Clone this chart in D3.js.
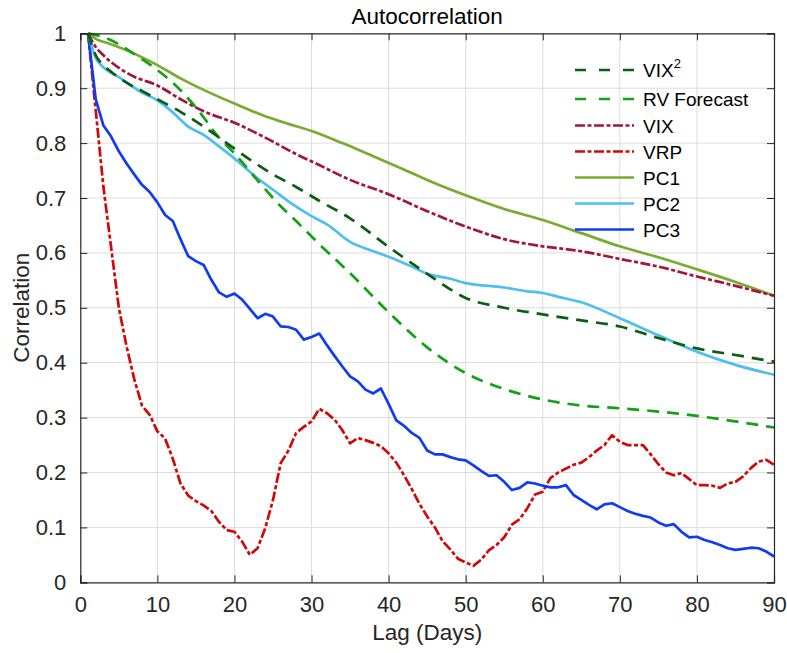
<!DOCTYPE html>
<html>
<head>
<meta charset="utf-8">
<script src="https://cdn.jsdelivr.net/npm/d3@7"></script>
<style>
  html, body { margin: 0; padding: 0; background: #fff; }
  svg { display: block; font-family: "Liberation Sans", Arial, Helvetica, sans-serif; }
</style>
</head>
<body>
<svg id="chart" width="787" height="653"></svg>
<script>
// ---------- Data ----------
const xTicks = [0, 10, 20, 30, 40, 50, 60, 70, 80, 90];
const yTicks = [0, 0.1, 0.2, 0.3, 0.4, 0.5, 0.6, 0.7, 0.8, 0.9, 1];

const lagsFull = [1,2,3,4,5,6,7,8,9,10,11,12,13,14,15,16,17,18,19,20,21,22,23,24,25,26,27,28,29,30,
  31,32,33,34,35,36,37,38,39,40,41,42,43,44,45,46,47,48,49,50,51,52,53,54,55,56,57,58,59,60,
  61,62,63,64,65,66,67,68,69,70,71,72,73,74,75,76,77,78,79,80,81,82,83,84,85,86,87,88,89,90];

const vrpValues = [1.0,0.86,0.72,0.61,0.50,0.43,0.37,0.322,0.305,0.275,0.262,0.225,0.18,0.158,0.148,0.14,0.13,0.11,0.095,0.092,
  0.074,0.05,0.062,0.099,0.15,0.217,0.24,0.272,0.283,0.293,0.316,0.308,0.296,0.277,0.253,0.263,0.259,0.254,0.248,0.235,
  0.218,0.195,0.17,0.143,0.12,0.10,0.075,0.06,0.043,0.036,0.03,0.041,0.058,0.068,0.082,0.105,0.115,0.135,0.16,0.165,
  0.19,0.20,0.207,0.214,0.218,0.228,0.24,0.25,0.268,0.256,0.25,0.25,0.25,0.233,0.215,0.20,0.195,0.199,0.188,0.177,
  0.177,0.176,0.172,0.18,0.183,0.193,0.208,0.22,0.223,0.214];

const pc3Values = [1.0,0.88,0.832,0.812,0.785,0.763,0.743,0.724,0.711,0.692,0.669,0.658,0.625,0.594,0.585,0.578,0.551,0.528,0.52,0.526,
  0.515,0.498,0.481,0.489,0.484,0.466,0.465,0.46,0.442,0.447,0.453,0.432,0.412,0.393,0.375,0.366,0.351,0.344,0.353,0.325,
  0.295,0.285,0.272,0.263,0.24,0.233,0.233,0.228,0.224,0.222,0.213,0.203,0.194,0.195,0.183,0.168,0.172,0.182,0.18,0.176,
  0.173,0.173,0.177,0.159,0.15,0.141,0.133,0.142,0.144,0.137,0.13,0.125,0.121,0.118,0.109,0.103,0.106,0.092,0.082,0.083,
  0.077,0.073,0.068,0.062,0.059,0.061,0.063,0.062,0.056,0.047];

const pc1Lags   = [1,2,4,7,10,13,16,20,24,27,30,34,38,41,45,50,55,60,65,70,75,80,85,90];
const pc1Values = [1.0,0.99,0.98,0.963,0.942,0.918,0.897,0.872,0.849,0.835,0.822,0.80,0.776,0.758,0.733,0.705,0.68,0.66,0.636,0.612,0.592,0.57,0.547,0.522];

const vixLags   = [1,2,3,5,7,10,13,16,20,24,28,31,35,40,45,50,55,60,65,70,75,80,85,90];
const vixValues = [1.0,0.975,0.96,0.937,0.921,0.905,0.88,0.858,0.837,0.81,0.78,0.76,0.733,0.707,0.676,0.648,0.625,0.612,0.603,0.589,0.575,0.557,0.54,0.522];

const vix2Lags   = [1,2,3,4,6,8,10,13,16,19,22,25,28,31,35,40,45,50,55,60,65,70,75,80,85,90];
const vix2Values = [1.0,0.96,0.942,0.93,0.91,0.895,0.88,0.857,0.83,0.80,0.77,0.743,0.72,0.695,0.663,0.611,0.562,0.518,0.50,0.488,0.477,0.466,0.445,0.426,0.414,0.402];

const rvLags   = [1,3,5,7,10,12,15,18,20,23,26,28,31,35,40,45,50,55,60,65,70,75,80,85,90];
const rvValues = [1.0,0.993,0.98,0.962,0.933,0.91,0.865,0.81,0.781,0.732,0.685,0.658,0.616,0.563,0.492,0.428,0.381,0.352,0.333,0.322,0.317,0.311,0.303,0.293,0.282];

const pc2Lags   = [1,2,3,5,8,10,12,14,16,18,20,23,25,27,30,32,35,38,40,43,45,48,50,55,58,60,62,65,70,75,80,85,90];
const pc2Values = [1.0,0.955,0.938,0.92,0.892,0.878,0.856,0.83,0.815,0.794,0.772,0.736,0.715,0.694,0.667,0.652,0.62,0.603,0.593,0.575,0.562,0.553,0.545,0.537,0.53,0.527,0.52,0.51,0.481,0.45,0.42,0.396,0.378];

const seriesNames = ["VIX2", "RV Forecast", "VIX", "VRP", "PC1", "PC2", "PC3"];

// ---------- Styles ----------
const DASH = "12,8";
const DASHDOT = "10,2.5,4,2.5";
const LEG_DASH = "11,13";
const series = [
  { name: seriesNames[0], lags: vix2Lags, vals: vix2Values, color: "#0b5d12", dash: DASH,    leg: LEG_DASH, curve: d3.curveMonotoneX },
  { name: seriesNames[1], lags: rvLags,   vals: rvValues,   color: "#14a014", dash: DASH,    leg: LEG_DASH, curve: d3.curveMonotoneX },
  { name: seriesNames[2], lags: vixLags,  vals: vixValues,  color: "#a3163a", dash: DASHDOT, leg: DASHDOT,  curve: d3.curveMonotoneX },
  { name: seriesNames[3], lags: lagsFull, vals: vrpValues,  color: "#d10808", dash: DASHDOT, leg: DASHDOT,  curve: d3.curveLinear },
  { name: seriesNames[4], lags: pc1Lags,  vals: pc1Values,  color: "#77ac30", dash: null,    leg: null,     curve: d3.curveMonotoneX },
  { name: seriesNames[5], lags: pc2Lags,  vals: pc2Values,  color: "#4dbeee", dash: null,    leg: null,     curve: d3.curveMonotoneX },
  { name: seriesNames[6], lags: lagsFull, vals: pc3Values,  color: "#0f3cf0", dash: null,    leg: null,     curve: d3.curveLinear }
];
// drawing order (bottom -> top)
const drawOrder = [3, 6, 5, 4, 2, 1, 0];

// ---------- Layout ----------
const L = 80.3, R = 774, T = 33.3, B = 582.3;
const svg = d3.select("#chart");
const x = d3.scaleLinear().domain([0, 90]).range([L, R]);
const y = d3.scaleLinear().domain([0, 1]).range([B, T]);
const axisColor = "#262626";

// grid
const grid = svg.append("g");
grid.selectAll(".gx").data(xTicks.slice(1, -1)).enter().append("line")
  .attr("x1", d => x(d)).attr("x2", d => x(d)).attr("y1", T).attr("y2", B)
  .attr("stroke", "#dcdcdc").attr("stroke-width", 1);
grid.selectAll(".gy").data(yTicks.slice(1, -1)).enter().append("line")
  .attr("y1", d => y(d)).attr("y2", d => y(d)).attr("x1", L).attr("x2", R)
  .attr("stroke", "#dcdcdc").attr("stroke-width", 1);

// lines
const plot = svg.append("g");
drawOrder.forEach(i => {
  const s = series[i];
  const pts = s.lags.map((l, k) => [l, s.vals[k]]);
  const line = d3.line().x(d => x(d[0])).y(d => y(d[1])).curve(s.curve);
  plot.append("path").attr("d", line(pts))
    .attr("fill", "none").attr("stroke", s.color).attr("stroke-width", 2.7)
    .attr("stroke-linejoin", "round")
    .attr("stroke-dasharray", s.dash);
});

// axes (ticks inward)
const tickLen = 7;
const xAxisB = d3.axisBottom(x).tickValues(xTicks).tickSize(-tickLen).tickPadding(14).tickFormat(d3.format("d"));
const xAxisT = d3.axisTop(x).tickValues(xTicks).tickSize(-tickLen).tickFormat("");
const yAxisL = d3.axisLeft(y).tickValues(yTicks).tickSize(-tickLen).tickPadding(14).tickFormat(d => d === 0 || d === 1 ? String(d) : d3.format(".1f")(d));
const yAxisR = d3.axisRight(y).tickValues(yTicks).tickSize(-tickLen).tickFormat("");

function styleAxis(g) {
  g.select(".domain").attr("stroke", axisColor).attr("stroke-width", 1.2);
  g.selectAll(".tick line").attr("stroke", axisColor).attr("stroke-width", 1);
  g.selectAll(".tick text").attr("fill", axisColor).attr("font-size", 22)
    .attr("font-family", "'Liberation Sans', Arial, sans-serif");
}
svg.append("g").attr("transform", `translate(0,${B})`).call(xAxisB).call(styleAxis);
svg.append("g").attr("transform", `translate(0,${T})`).call(xAxisT).call(styleAxis);
svg.append("g").attr("transform", `translate(${L},0)`).call(yAxisL).call(styleAxis);
svg.append("g").attr("transform", `translate(${R},0)`).call(yAxisR).call(styleAxis);

// titles
svg.append("text").attr("x", (L + R) / 2).attr("y", 24).attr("text-anchor", "middle")
  .attr("font-size", 22.5).attr("fill", "#000").text("Autocorrelation");
svg.append("text").attr("x", (L + R) / 2).attr("y", 640).attr("text-anchor", "middle")
  .attr("font-size", 22.5).attr("fill", axisColor).text("Lag (Days)");
svg.append("text").attr("transform", `translate(28.5,${(T + B) / 2}) rotate(-90)`).attr("text-anchor", "middle")
  .attr("font-size", 22.5).attr("fill", axisColor).text("Correlation");

// legend
const legY = [70, 99, 125.5, 151.5, 177.5, 203.5, 229.5];
const leg = svg.append("g");
series.forEach((s, i) => {
  leg.append("line").attr("x1", 575).attr("x2", 634).attr("y1", legY[i]).attr("y2", legY[i])
    .attr("stroke", s.color).attr("stroke-width", 2.7).attr("stroke-dasharray", s.leg);
  const t = leg.append("text").attr("x", 643).attr("y", legY[i] + 7).attr("font-size", 19).attr("fill", "#000");
  if (i === 0) {
    t.append("tspan").text("VIX");
    t.append("tspan").attr("dy", -9).attr("font-size", 13).text("2");
  } else {
    t.text(s.name);
  }
});
</script>
</body>
</html>
